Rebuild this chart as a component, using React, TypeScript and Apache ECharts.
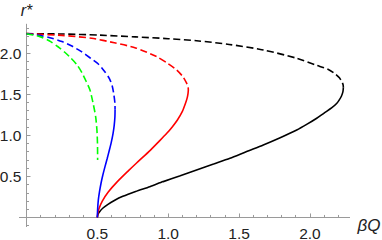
import React, { useEffect, useRef } from "react";
import * as echarts from "echarts";

// [βQ, r*] points
const blackDashed: number[][] = [
  [0, 2.236], [0.25, 2.232], [0.52, 2.218], [0.77, 2.197], [1.0, 2.175], [1.2, 2.15],
  [1.43, 2.105], [1.671, 2.038], [1.907, 1.937], [2.05, 1.85], [2.13, 1.8], [2.18, 1.745],
  [2.208, 1.7], [2.226, 1.65], [2.234, 1.615], [2.236, 1.584],
];
const blackSolid: number[][] = [
  [2.236, 1.584], [2.233, 1.53], [2.222, 1.475], [2.205, 1.425], [2.19, 1.39],
  [2.155, 1.335], [2.1, 1.27], [2.048, 1.207], [1.98, 1.135], [1.907, 1.064],
  [1.79, 0.97], [1.671, 0.882], [1.55, 0.8], [1.436, 0.72], [1.32, 0.65], [1.2, 0.578],
  [1.08, 0.505], [0.965, 0.436], [0.87, 0.375], [0.77, 0.316],
  [0.68, 0.257], [0.62, 0.207], [0.575, 0.16], [0.54, 0.115], [0.516, 0.07],
  [0.504, 0.035], [0.5, 0],
];
const redDashed: number[][] = [
  [0, 2.236], [0.25, 2.215], [0.46, 2.18], [0.62, 2.125], [0.77, 2.063], [0.919, 1.956],
  [1.0, 1.87], [1.06, 1.794], [1.105, 1.71], [1.13, 1.633], [1.14, 1.59], [1.142, 1.551],
];
const redSolid: number[][] = [
  [1.142, 1.551], [1.14, 1.51], [1.134, 1.455], [1.122, 1.389], [1.1, 1.29],
  [1.065, 1.186], [1.03, 1.105], [0.99, 1.024], [0.935, 0.925], [0.875, 0.82],
  [0.775, 0.66], [0.72, 0.57], [0.638, 0.43], [0.577, 0.31], [0.535, 0.2],
  [0.512, 0.11], [0.503, 0.05], [0.5, 0],
];
const blueDashed: number[][] = [
  [0, 2.236], [0.1, 2.212], [0.18, 2.18], [0.25, 2.14], [0.32, 2.085], [0.385, 2.02],
  [0.45, 1.94], [0.505, 1.87], [0.55, 1.78], [0.585, 1.69], [0.605, 1.6], [0.617, 1.49],
  [0.624, 1.39], [0.625, 1.31],
];
const blueSolid: number[][] = [
  [0.625, 1.31], [0.624, 1.226], [0.619, 1.12], [0.611, 1.024], [0.599, 0.92],
  [0.585, 0.82], [0.57, 0.72], [0.554, 0.618], [0.538, 0.51], [0.526, 0.416],
  [0.515, 0.31], [0.507, 0.213], [0.502, 0.1], [0.5, 0],
];
const greenDashed: number[][] = [
  [0, 2.236], [0.095, 2.2], [0.16, 2.15], [0.22, 2.08], [0.27, 2.01], [0.313, 1.94],
  [0.355, 1.86], [0.39, 1.765], [0.42, 1.66], [0.448, 1.55], [0.47, 1.39],
  [0.488, 1.226], [0.497, 1.065], [0.501, 0.9], [0.502, 0.7],
];

const majorTicks = [0.5, 1.0, 1.5, 2.0];
const xMinorTicks = [0.1, 0.2, 0.3, 0.4, 0.6, 0.7, 0.8, 0.9, 1.1, 1.2, 1.3, 1.4, 1.6, 1.7, 1.8, 1.9, 2.1, 2.2];
const yMinorTicks = [-0.1, 0.1, 0.2, 0.3, 0.4, 0.6, 0.7, 0.8, 0.9, 1.1, 1.2, 1.3, 1.4, 1.6, 1.7, 1.8, 1.9, 2.1, 2.2, 2.3];

const X_MIN = -0.05;
const X_MAX = 2.28;
const Y_MIN = -0.11;
const Y_MAX = 2.35;

const AXIS_COLOR = "#9a9a9a";
const LABEL_COLOR = "#222";
const FONT = "Liberation Sans, Arial, sans-serif";

export default function App() {
  const ref = useRef<HTMLDivElement>(null);
  useEffect(() => {
    if (!ref.current) return;
    const chart = echarts.init(ref.current, undefined, { renderer: "svg" });
    const dash = [7, 3.5];
    const line = (data: number[][], color: string, dashed: boolean) => ({
      type: "line",
      data,
      symbol: "none",
      smooth: 0.25,
      xAxisIndex: 0,
      yAxisIndex: 0,
      lineStyle: { color, width: 1.6, type: dashed ? dash : "solid" },
      emphasis: { disabled: true },
      silent: true,
    });
    const baseX = {
      type: "value",
      min: X_MIN,
      max: X_MAX,
      position: "bottom",
      splitLine: { show: false },
    };
    const baseY = {
      type: "value",
      min: Y_MIN,
      max: Y_MAX,
      position: "left",
      splitLine: { show: false },
    };
    chart.setOption({
      animation: false,
      grid: {
        left: 19.4,
        right: 32.4,
        top: 24.3,
        bottom: 13.5,
        containLabel: false,
        outerBoundsMode: "none",
      },
      xAxis: [
        {
          ...baseX,
          name: "βQ",
          nameLocation: "end",
          nameGap: 8,
          nameTextStyle: {
            fontFamily: FONT,
            fontSize: 17,
            fontStyle: "italic",
            color: LABEL_COLOR,
            verticalAlign: "top",
            padding: [0, 0, 0, 0],
          },
          axisLine: { show: true, onZero: true, lineStyle: { color: AXIS_COLOR, width: 1 } },
          axisTick: { show: true, inside: true, length: 4, customValues: majorTicks, lineStyle: { color: AXIS_COLOR } },
          axisLabel: {
            show: true,
            customValues: majorTicks,
            margin: 0,
            lineHeight: 13,
            fontFamily: FONT,
            fontSize: 15.5,
            color: LABEL_COLOR,
            formatter: (v: number) => v.toFixed(1),
          },
        },
        {
          ...baseX,
          axisLine: { show: true, onZero: true, lineStyle: { color: AXIS_COLOR, width: 1 } },
          axisTick: { show: true, inside: true, length: 2.5, customValues: xMinorTicks, lineStyle: { color: AXIS_COLOR } },
          axisLabel: { show: false },
        },
      ],
      yAxis: [
        {
          ...baseY,
          name: "r*",
          nameLocation: "end",
          nameGap: 6,
          nameTextStyle: {
            fontFamily: FONT,
            fontSize: 16,
            fontStyle: "italic",
            color: LABEL_COLOR,
            align: "center",
          },
          axisLine: { show: true, onZero: true, lineStyle: { color: AXIS_COLOR, width: 1 } },
          axisTick: { show: true, inside: true, length: 4, customValues: majorTicks, lineStyle: { color: AXIS_COLOR } },
          axisLabel: {
            show: true,
            customValues: majorTicks,
            margin: -2,
            fontFamily: FONT,
            fontSize: 15.5,
            color: LABEL_COLOR,
            formatter: (v: number) => v.toFixed(1),
          },
        },
        {
          ...baseY,
          axisLine: { show: true, onZero: true, lineStyle: { color: AXIS_COLOR, width: 1 } },
          axisTick: { show: true, inside: true, length: 2.5, customValues: yMinorTicks, lineStyle: { color: AXIS_COLOR } },
          axisLabel: { show: false },
        },
      ],
      series: [
        line(blackDashed, "#000000", true),
        line(blackSolid, "#000000", false),
        line(redDashed, "#ff0000", true),
        line(redSolid, "#ff0000", false),
        line(blueDashed, "#0000ff", true),
        line(blueSolid, "#0000ff", false),
        line(greenDashed, "#00ff00", true),
      ],
    } as any);
    return () => chart.dispose();
  }, []);
  return (
    <div
      ref={ref}
      style={{ position: "fixed", left: 0, top: 0, width: 382, height: 240, background: "#fff" }}
    />
  );
}
